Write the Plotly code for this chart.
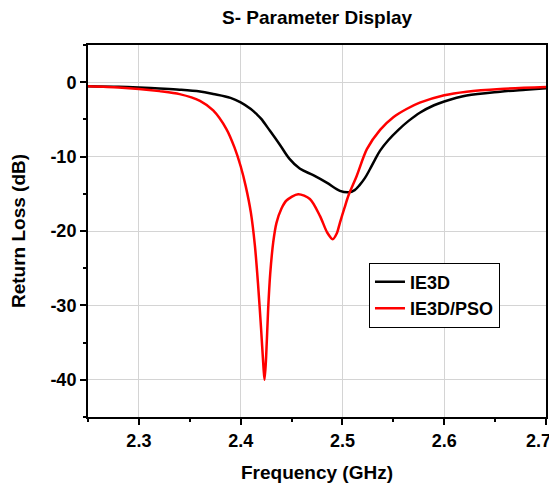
import plotly.graph_objects as go

# IE3D (black)
freq_ie3d = [2.25, 2.28, 2.30, 2.32, 2.34, 2.36, 2.373, 2.39, 2.40, 2.41, 2.4155, 2.42,
             2.4286, 2.4385, 2.448, 2.458, 2.4713, 2.4845, 2.4975, 2.506, 2.512, 2.517,
             2.522, 2.527, 2.532, 2.537, 2.545, 2.555, 2.565, 2.576, 2.59, 2.60, 2.622,
             2.655, 2.68, 2.70]
rl_ie3d = [-0.55, -0.62, -0.72, -0.85, -1.0, -1.25, -1.58, -2.1, -2.7, -3.6, -4.27, -4.9,
           -6.5, -8.4, -10.3, -11.6, -12.5, -13.5, -14.6, -14.8, -14.5, -13.8,
           -12.9, -11.7, -10.4, -9.2, -7.8, -6.4, -5.2, -4.1, -3.1, -2.6, -1.8,
           -1.27, -1.0, -0.8]

# IE3D/PSO (red)
freq_pso = [2.25, 2.28, 2.30, 2.32, 2.34, 2.36, 2.373, 2.386, 2.394, 2.400, 2.405, 2.410,
            2.414, 2.417, 2.420, 2.4225, 2.4235, 2.425, 2.427, 2.429, 2.432, 2.4352,
            2.440, 2.445, 2.4565, 2.468, 2.478, 2.485, 2.4904, 2.4945, 2.4975, 2.502,
            2.506, 2.514, 2.524, 2.537, 2.55, 2.563, 2.576, 2.60, 2.622, 2.655, 2.70]
rl_pso = [-0.55, -0.7, -0.9, -1.2, -1.6, -2.5, -3.8, -6.3, -8.8, -11.3, -14.0, -17.5,
          -22.0, -27.0, -33.0, -38.5, -40.0, -37.0, -30.5, -25.8, -21.5, -18.9,
          -17.0, -15.9, -15.05, -15.7, -18.0, -20.2, -21.1, -20.3, -18.9, -16.9,
          -15.2, -12.6, -9.0, -6.4, -4.7, -3.6, -2.75, -1.75, -1.27, -0.9, -0.65]

series_names = ["IE3D", "IE3D/PSO"]

x_tickvals = [2.3, 2.4, 2.5, 2.6, 2.7]
x_ticktext = ["2.3", "2.4", "2.5", "2.6", "2.7\u00a0\u00a0\u00a0"]
y_tickvals = [-40, -30, -20, -10, 0]
y_ticktext = ["-40", "-30", "-20", "-10", "0"]

FONT = "Liberation Sans, Arial, sans-serif"

fig = go.Figure()
fig.add_trace(go.Scatter(x=freq_ie3d, y=rl_ie3d, mode="lines", name=series_names[0],
                         line=dict(color="black", width=2.5, shape="spline", smoothing=1.0)))
fig.add_trace(go.Scatter(x=freq_pso, y=rl_pso, mode="lines", name=series_names[1],
                         line=dict(color="#ff0000", width=2.5, shape="spline", smoothing=0.8)))

axis_common = dict(
    showline=True, linecolor="black", linewidth=2, mirror=True,
    ticks="outside", ticklen=6, tickwidth=2, tickcolor="black",
    showgrid=True, gridcolor="#d4d4d4", gridwidth=1, zeroline=False,
    tickfont=dict(family=FONT, size=18, color="black", weight="bold"),
    automargin=False, ticklabeloverflow="allow",
)

# page body adds an 8px offset, so the figure is sized/margined to compensate
fig.update_layout(
    width=549, height=479,
    margin=dict(l=80, r=11, t=37, b=70),
    paper_bgcolor="white", plot_bgcolor="white",
    title=dict(text="<b>S- Parameter Display</b>", x=0.563, xanchor="center", y=0.981, yanchor="middle",
               font=dict(family=FONT, size=19, color="black"), automargin=False),
    xaxis=dict(range=[2.25, 2.7], tickvals=x_tickvals, ticktext=x_ticktext,
               minor=dict(dtick=0.05, tick0=2.25, ticks="outside", ticklen=3, tickwidth=2,
                          tickcolor="black", showgrid=False),
               title=dict(text="<b>Frequency (GHz)</b>", standoff=16,
                          font=dict(family=FONT, size=19, color="black")),
               **axis_common),
    yaxis=dict(range=[-45, 5], tickvals=y_tickvals, ticktext=y_ticktext,
               minor=dict(dtick=5, tick0=-45, ticks="outside", ticklen=3, tickwidth=2,
                          tickcolor="black", showgrid=False),
               title=dict(text="<b>Return Loss (dB)</b>", standoff=21,
                          font=dict(family=FONT, size=19, color="black")),
               **axis_common),
    legend=dict(x=0.6135, y=0.415, xanchor="left", yanchor="top",
                bgcolor="white", bordercolor="black", borderwidth=1,
                font=dict(family=FONT, size=18, color="black", weight="bold"),
                itemwidth=30, tracegroupgap=0),
    showlegend=True,
)

fig.write_html("out.html")
